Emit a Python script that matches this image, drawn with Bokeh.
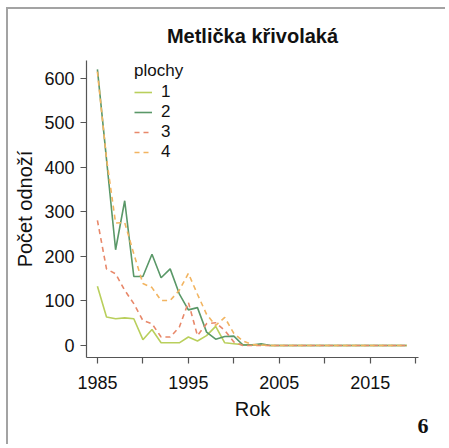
from bokeh.plotting import figure
from bokeh.models import Range1d, FixedTicker, Legend, LegendItem, Title
from bokeh.embed import file_html
from bokeh.resources import INLINE

years = list(range(1985, 2020))
plocha1 = [133, 64, 60, 62, 60, 13, 36, 6, 6, 6, 19, 10, 22, 43, 6, 4, 2, 1, 1] + [0] * 16
plocha2 = [620, 418, 215, 325, 155, 155, 205, 152, 172, 116, 80, 85, 30, 14, 20, 21, 1, 1, 4] + [0] * 16
plocha3 = [281, 172, 161, 124, 94, 56, 49, 19, 19, 41, 97, 22, 49, 51, 34, 8, 0, 0, 0] + [0] * 16
plocha4 = [615, 420, 275, 276, 206, 139, 130, 101, 101, 124, 162, 115, 70, 45, 63, 27, 10, 2, 1] + [0] * 16

series_names = ["1", "2", "3", "4"]
series_values = [plocha1, plocha2, plocha3, plocha4]
series_colors = ["#b9cf5c", "#5a9868", "#e8886a", "#f2b460"]
series_dash = ["solid", "solid", "5 4", "5 4"]

x_ticks = [1985, 1990, 1995, 2000, 2005, 2010, 2015, 2020]
x_labels = {1985: "1985", 1990: "", 1995: "1995", 2000: "", 2005: "2005",
            2010: "", 2015: "2015", 2020: ""}
y_ticks = [0, 100, 200, 300, 400, 500, 600]
panel_number = "6"

FONT = "Liberation Sans"

p = figure(width=439, height=437, output_backend="svg", toolbar_location=None,
           x_range=Range1d(1983.8, 2020.3), y_range=Range1d(-27, 640),
           min_border_left=78, min_border_right=29, min_border_top=51, min_border_bottom=89)
p.styles = {"border-left": "2px solid #a3a3a3", "border-top": "2px solid #a3a3a3",
            "margin-left": "6px", "margin-top": "7px"}

p.title.text = "Metlička křivolaká"
p.title.align = "center"
p.title.offset = 12
p.title.text_font = FONT
p.title.text_font_size = "20px"
p.title.text_font_style = "bold"
p.title.text_color = "#111111"
p.title.standoff = 27

p.grid.visible = False
p.outline_line_color = None
p.background_fill_color = "white"
p.border_fill_color = "white"

for ax in (p.xaxis[0], p.yaxis[0]):
    ax.axis_line_color = "#555555"
    ax.axis_line_width = 1.2
    ax.major_tick_line_color = "#555555"
    ax.major_tick_line_width = 1.2
    ax.major_tick_in = 0
    ax.major_tick_out = 6
    ax.minor_tick_line_color = None
    ax.major_label_text_font = FONT
    ax.major_label_text_font_size = "18px"
    ax.major_label_text_color = "#111111"
    ax.axis_label_text_font = FONT
    ax.axis_label_text_font_size = "20px"
    ax.axis_label_text_font_style = "normal"
    ax.axis_label_text_color = "#111111"

p.xaxis[0].ticker = FixedTicker(ticks=x_ticks)
p.xaxis[0].major_label_overrides = x_labels
p.xaxis[0].major_label_standoff = 12
p.xaxis[0].axis_label = "Rok"
p.xaxis[0].axis_label_standoff = 6

p.yaxis[0].ticker = FixedTicker(ticks=y_ticks)
p.yaxis[0].major_label_standoff = 6
p.yaxis[0].axis_label = "Počet odnoží"
p.yaxis[0].axis_label_standoff = 5

items = []
for name, vals, col, dash in zip(series_names, series_values, series_colors, series_dash):
    r = p.line(years, vals, line_color=col, line_width=1.6, line_dash=dash)
    items.append(LegendItem(label=name, renderers=[r]))

legend = Legend(items=items, location=(48, 195), title="plochy",
                title_text_font=FONT, title_text_font_size="17px", title_text_font_style="normal",
                title_text_color="#111111", title_standoff=1,
                label_text_font=FONT, label_text_font_size="17px", label_text_color="#111111",
                glyph_width=18, glyph_height=20, label_height=20, label_standoff=9,
                spacing=0, padding=0, margin=0,
                background_fill_alpha=0, border_line_color=None)
p.add_layout(legend)

p.add_layout(Title(text=panel_number, align="right", offset=-10, standoff=-21,
                   text_font="Liberation Serif", text_font_style="bold", text_font_size="22px",
                   text_color="#111111"), "below")

open("out.html", "w").write(file_html(p, INLINE))
